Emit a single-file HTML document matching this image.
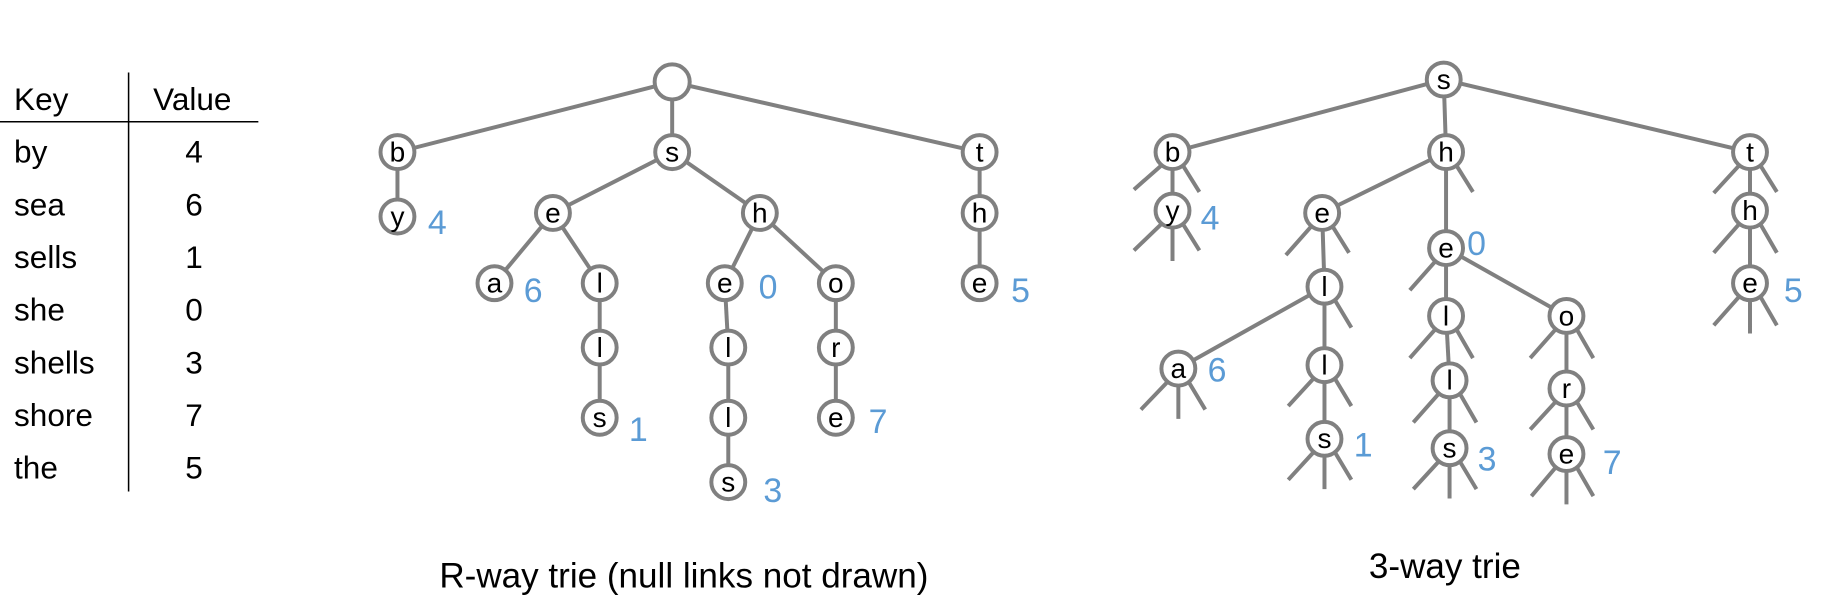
<!DOCTYPE html>
<html><head><meta charset="utf-8"><style>
html,body{margin:0;padding:0;background:#fff;}
svg{display:block;}
text{font-family:"Liberation Sans",Arial,sans-serif;}
.n{fill:#fff;stroke:#808080;stroke-width:3.4;}
.l{stroke:#808080;stroke-width:3.4;fill:none;}
.t{font-size:24px;fill:#000;text-anchor:middle;}
.v{font-size:29px;fill:#5b9bd5;}
.k{font-size:27px;fill:#000;}
.kv{font-size:27px;fill:#000;text-anchor:middle;}
</style></head><body>
<svg width="1833" height="605" viewBox="0 0 1568 517" preserveAspectRatio="none">
<!-- table -->
<line x1="110" y1="62" x2="110" y2="420" stroke="#000" stroke-width="1.3"/>
<line x1="0" y1="104" x2="221" y2="104" stroke="#000" stroke-width="1.3"/>
<text class="k" x="12" y="94">Key</text><text class="k" x="131" y="94">Value</text>
<text class="k" x="12" y="139">by</text><text class="kv" x="166" y="139">4</text>
<text class="k" x="12" y="184">sea</text><text class="kv" x="166" y="184">6</text>
<text class="k" x="12" y="229">sells</text><text class="kv" x="166" y="229">1</text>
<text class="k" x="12" y="274">she</text><text class="kv" x="166" y="274">0</text>
<text class="k" x="12" y="319">shells</text><text class="kv" x="166" y="319">3</text>
<text class="k" x="12" y="364">shore</text><text class="kv" x="166" y="364">7</text>
<text class="k" x="12" y="409">the</text><text class="kv" x="166" y="409">5</text>

<!-- R-way edges -->
<g class="l">
<line x1="575" y1="70" x2="340" y2="130"/><line x1="575" y1="70" x2="575" y2="130"/><line x1="575" y1="70" x2="838" y2="130"/>
<line x1="340" y1="130" x2="340" y2="185"/>
<line x1="575" y1="130" x2="473" y2="182"/><line x1="575" y1="130" x2="650" y2="182"/>
<line x1="838" y1="130" x2="838" y2="182"/><line x1="838" y1="182" x2="838" y2="242"/>
<line x1="473" y1="182" x2="423" y2="242"/><line x1="473" y1="182" x2="513" y2="242"/>
<line x1="513" y1="242" x2="513" y2="357"/>
<line x1="650" y1="182" x2="620" y2="242"/><line x1="650" y1="182" x2="715" y2="242"/>
<line x1="620" y1="242" x2="623" y2="297"/><line x1="623" y1="297" x2="623" y2="412"/>
<line x1="715" y1="242" x2="715" y2="357"/>
</g>
<g>
<circle class="n" cx="575" cy="70" r="15"/>
<circle class="n" cx="340" cy="130" r="14.5"/><circle class="n" cx="575" cy="130" r="14.5"/><circle class="n" cx="838" cy="130" r="14.5"/>
<circle class="n" cx="340" cy="185" r="14.5"/><circle class="n" cx="473" cy="182" r="14.5"/><circle class="n" cx="650" cy="182" r="14.5"/><circle class="n" cx="838" cy="182" r="14.5"/>
<circle class="n" cx="423" cy="242" r="14.5"/><circle class="n" cx="513" cy="242" r="14.5"/><circle class="n" cx="620" cy="242" r="14.5"/><circle class="n" cx="715" cy="242" r="14.5"/><circle class="n" cx="838" cy="242" r="14.5"/>
<circle class="n" cx="513" cy="297" r="14.5"/><circle class="n" cx="623" cy="297" r="14.5"/><circle class="n" cx="715" cy="297" r="14.5"/>
<circle class="n" cx="513" cy="357" r="14.5"/><circle class="n" cx="623" cy="357" r="14.5"/><circle class="n" cx="715" cy="357" r="14.5"/>
<circle class="n" cx="623" cy="412" r="14.5"/>
</g>
<g class="t">
<text x="340" y="138">b</text><text x="575" y="138">s</text><text x="838" y="138">t</text>
<text x="340" y="193">y</text><text x="473" y="190">e</text><text x="650" y="190">h</text><text x="838" y="190">h</text>
<text x="423" y="250">a</text><text x="513" y="250">l</text><text x="620" y="250">e</text><text x="715" y="250">o</text><text x="838" y="250">e</text>
<text x="513" y="305">l</text><text x="623" y="305">l</text><text x="715" y="305">r</text>
<text x="513" y="365">s</text><text x="623" y="365">l</text><text x="715" y="365">e</text>
<text x="623" y="420">s</text>
</g>
<g class="v">
<text x="366" y="200">4</text><text x="448" y="258">6</text><text x="649" y="255">0</text><text x="865" y="258">5</text>
<text x="538" y="377">1</text><text x="743" y="370">7</text><text x="653" y="429">3</text>
</g>
<text x="585" y="502" style="font-size:30px;text-anchor:middle">R-way trie (null links not drawn)</text>

<!-- 3-way edges -->
<g class="l">
<line x1="1235" y1="68" x2="1003" y2="130"/><line x1="1235" y1="68" x2="1237" y2="130"/><line x1="1235" y1="68" x2="1497" y2="130"/>
<line x1="1003" y1="130" x2="1003" y2="180"/>
<line x1="1237" y1="130" x2="1131" y2="182"/><line x1="1237" y1="130" x2="1237" y2="212"/>
<line x1="1131" y1="182" x2="1133" y2="245"/>
<line x1="1133" y1="245" x2="1008" y2="315"/><line x1="1133" y1="245" x2="1133" y2="312"/><line x1="1133" y1="312" x2="1133" y2="375"/>
<line x1="1237" y1="212" x2="1237" y2="270"/><line x1="1237" y1="212" x2="1340" y2="270"/>
<line x1="1237" y1="270" x2="1240" y2="325"/><line x1="1240" y1="325" x2="1240" y2="383"/>
<line x1="1340" y1="270" x2="1340" y2="388"/>
<line x1="1497" y1="130" x2="1497" y2="242"/>
<path d="M995,140 L970,162 M1011,140 L1026,164"/>
<path d="M995,190 L970,214 M1003,193 L1003,223 M1011,190 L1026,214"/>
<path d="M1245,140 L1260,164"/>
<path d="M1123,192 L1100,218 M1139,192 L1154,216"/>
<path d="M1141,255 L1156,280"/>
<path d="M1000,325 L976,350 M1008,328 L1008,358 M1016,325 L1031,350"/>
<path d="M1125,322 L1102,347 M1141,322 L1156,347"/>
<path d="M1125,385 L1102,410 M1133,388 L1133,418 M1141,385 L1156,410"/>
<path d="M1229,222 L1206,248"/>
<path d="M1229,280 L1206,306 M1245,280 L1260,306"/>
<path d="M1232,335 L1209,361 M1248,335 L1263,361"/>
<path d="M1232,393 L1209,418 M1240,396 L1240,426 M1248,393 L1263,418"/>
<path d="M1332,280 L1309,306 M1348,280 L1363,306"/>
<path d="M1332,342 L1309,367 M1348,342 L1363,367"/>
<path d="M1332,398 L1310,424 M1340,401 L1340,431 M1348,398 L1363,424"/>
<path d="M1489,140 L1466,165 M1505,140 L1520,164"/>
<path d="M1489,190 L1466,216 M1505,190 L1520,216"/>
<path d="M1489,252 L1466,278 M1497,255 L1497,285 M1505,252 L1520,278"/>
</g>
<g>
<circle class="n" cx="1235" cy="68" r="14.5"/>
<circle class="n" cx="1003" cy="130" r="14.5"/><circle class="n" cx="1237" cy="130" r="14.5"/><circle class="n" cx="1497" cy="130" r="14.5"/>
<circle class="n" cx="1003" cy="180" r="14.5"/><circle class="n" cx="1131" cy="182" r="14.5"/><circle class="n" cx="1237" cy="212" r="14.5"/><circle class="n" cx="1497" cy="180" r="14.5"/>
<circle class="n" cx="1133" cy="245" r="14.5"/><circle class="n" cx="1237" cy="270" r="14.5"/><circle class="n" cx="1340" cy="270" r="14.5"/><circle class="n" cx="1497" cy="242" r="14.5"/>
<circle class="n" cx="1008" cy="315" r="14.5"/><circle class="n" cx="1133" cy="312" r="14.5"/><circle class="n" cx="1240" cy="325" r="14.5"/><circle class="n" cx="1340" cy="332" r="14.5"/>
<circle class="n" cx="1133" cy="375" r="14.5"/><circle class="n" cx="1240" cy="383" r="14.5"/><circle class="n" cx="1340" cy="388" r="14.5"/>
</g>
<g class="t">
<text x="1235" y="76">s</text>
<text x="1003" y="138">b</text><text x="1237" y="138">h</text><text x="1497" y="138">t</text>
<text x="1003" y="188">y</text><text x="1131" y="190">e</text><text x="1237" y="220">e</text><text x="1497" y="188">h</text>
<text x="1133" y="253">l</text><text x="1237" y="278">l</text><text x="1340" y="278">o</text><text x="1497" y="250">e</text>
<text x="1008" y="323">a</text><text x="1133" y="320">l</text><text x="1240" y="333">l</text><text x="1340" y="340">r</text>
<text x="1133" y="383">s</text><text x="1240" y="391">s</text><text x="1340" y="396">e</text>
</g>
<g class="v">
<text x="1027" y="196">4</text><text x="1255" y="218">0</text><text x="1526" y="258">5</text>
<text x="1033" y="326">6</text><text x="1158" y="390">1</text><text x="1264" y="402">3</text><text x="1371" y="405">7</text>
</g>
<text x="1236" y="494" style="font-size:30px;text-anchor:middle">3-way trie</text>
</svg>
</body></html>
